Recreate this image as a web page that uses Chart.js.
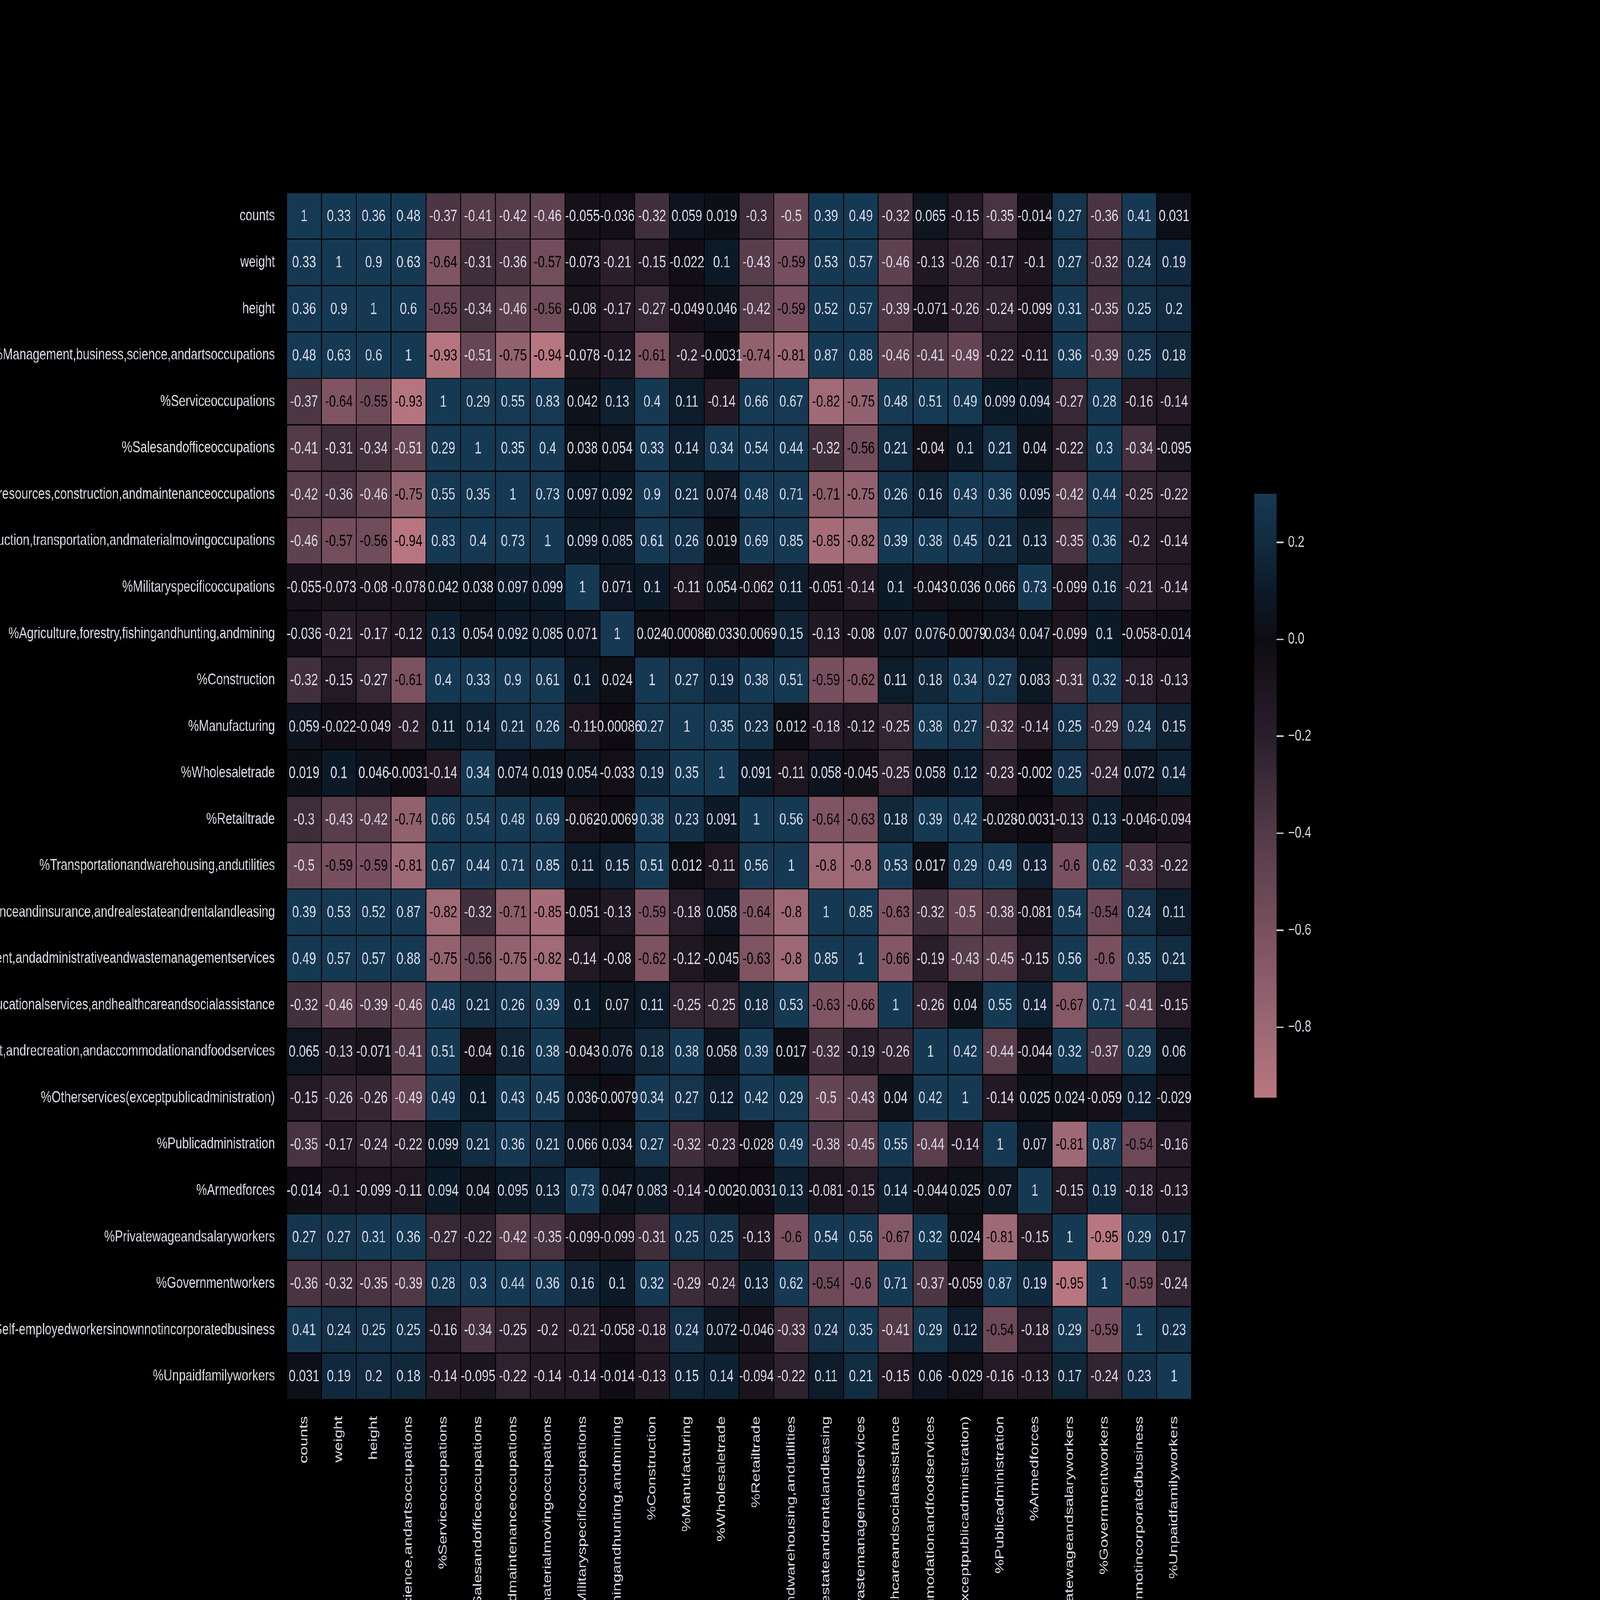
<!DOCTYPE html>
<html lang="en">
<head>
<meta charset="UTF-8">
<title>Correlation heatmap</title>
<script src="https://cdn.jsdelivr.net/npm/chart.js"></script>
<style>
  html, body { margin: 0; padding: 0; background: #000; overflow: hidden; }
  #wrap { position: relative; width: 6000px; height: 4500px; overflow: hidden; background: #000; transform-origin: 0 0; }
  #heat { position: absolute; left: 0; top: 0; }
  #cbar { position: absolute; left: 4703px; top: 1340px; }
</style>
</head>
<body>
<div id="wrap">
  <canvas id="heat" width="6000" height="4500"></canvas>
  <canvas id="cbar" width="300" height="1796"></canvas>
</div>
<script>
// variable names, same order on both axes
const labels = [
  'counts', 'weight', 'height',
  '%Management,business,science,andartsoccupations',
  '%Serviceoccupations',
  '%Salesandofficeoccupations',
  '%Naturalresources,construction,andmaintenanceoccupations',
  '%Production,transportation,andmaterialmovingoccupations',
  '%Militaryspecificoccupations',
  '%Agriculture,forestry,fishingandhunting,andmining',
  '%Construction',
  '%Manufacturing',
  '%Wholesaletrade',
  '%Retailtrade',
  '%Transportationandwarehousing,andutilities',
  '%Financeandinsurance,andrealestateandrentalandleasing',
  '%Professional,scientific,andmanagement,andadministrativeandwastemanagementservices',
  '%Educationalservices,andhealthcareandsocialassistance',
  '%Arts,entertainment,andrecreation,andaccommodationandfoodservices',
  '%Otherservices(exceptpublicadministration)',
  '%Publicadministration',
  '%Armedforces',
  '%Privatewageandsalaryworkers',
  '%Governmentworkers',
  '%Self-employedworkersinownnotincorporatedbusiness',
  '%Unpaidfamilyworkers'
];

// correlation matrix, one row per label
const corr = [
  [1, 0.33, 0.36, 0.48, -0.37, -0.41, -0.42, -0.46, -0.055, -0.036, -0.32, 0.059, 0.019, -0.3, -0.5, 0.39, 0.49, -0.32, 0.065, -0.15, -0.35, -0.014, 0.27, -0.36, 0.41, 0.031],
  [0.33, 1, 0.9, 0.63, -0.64, -0.31, -0.36, -0.57, -0.073, -0.21, -0.15, -0.022, 0.1, -0.43, -0.59, 0.53, 0.57, -0.46, -0.13, -0.26, -0.17, -0.1, 0.27, -0.32, 0.24, 0.19],
  [0.36, 0.9, 1, 0.6, -0.55, -0.34, -0.46, -0.56, -0.08, -0.17, -0.27, -0.049, 0.046, -0.42, -0.59, 0.52, 0.57, -0.39, -0.071, -0.26, -0.24, -0.099, 0.31, -0.35, 0.25, 0.2],
  [0.48, 0.63, 0.6, 1, -0.93, -0.51, -0.75, -0.94, -0.078, -0.12, -0.61, -0.2, -0.0031, -0.74, -0.81, 0.87, 0.88, -0.46, -0.41, -0.49, -0.22, -0.11, 0.36, -0.39, 0.25, 0.18],
  [-0.37, -0.64, -0.55, -0.93, 1, 0.29, 0.55, 0.83, 0.042, 0.13, 0.4, 0.11, -0.14, 0.66, 0.67, -0.82, -0.75, 0.48, 0.51, 0.49, 0.099, 0.094, -0.27, 0.28, -0.16, -0.14],
  [-0.41, -0.31, -0.34, -0.51, 0.29, 1, 0.35, 0.4, 0.038, 0.054, 0.33, 0.14, 0.34, 0.54, 0.44, -0.32, -0.56, 0.21, -0.04, 0.1, 0.21, 0.04, -0.22, 0.3, -0.34, -0.095],
  [-0.42, -0.36, -0.46, -0.75, 0.55, 0.35, 1, 0.73, 0.097, 0.092, 0.9, 0.21, 0.074, 0.48, 0.71, -0.71, -0.75, 0.26, 0.16, 0.43, 0.36, 0.095, -0.42, 0.44, -0.25, -0.22],
  [-0.46, -0.57, -0.56, -0.94, 0.83, 0.4, 0.73, 1, 0.099, 0.085, 0.61, 0.26, 0.019, 0.69, 0.85, -0.85, -0.82, 0.39, 0.38, 0.45, 0.21, 0.13, -0.35, 0.36, -0.2, -0.14],
  [-0.055, -0.073, -0.08, -0.078, 0.042, 0.038, 0.097, 0.099, 1, 0.071, 0.1, -0.11, 0.054, -0.062, 0.11, -0.051, -0.14, 0.1, -0.043, 0.036, 0.066, 0.73, -0.099, 0.16, -0.21, -0.14],
  [-0.036, -0.21, -0.17, -0.12, 0.13, 0.054, 0.092, 0.085, 0.071, 1, 0.024, -0.00086, -0.033, -0.0069, 0.15, -0.13, -0.08, 0.07, 0.076, -0.0079, 0.034, 0.047, -0.099, 0.1, -0.058, -0.014],
  [-0.32, -0.15, -0.27, -0.61, 0.4, 0.33, 0.9, 0.61, 0.1, 0.024, 1, 0.27, 0.19, 0.38, 0.51, -0.59, -0.62, 0.11, 0.18, 0.34, 0.27, 0.083, -0.31, 0.32, -0.18, -0.13],
  [0.059, -0.022, -0.049, -0.2, 0.11, 0.14, 0.21, 0.26, -0.11, -0.00086, 0.27, 1, 0.35, 0.23, 0.012, -0.18, -0.12, -0.25, 0.38, 0.27, -0.32, -0.14, 0.25, -0.29, 0.24, 0.15],
  [0.019, 0.1, 0.046, -0.0031, -0.14, 0.34, 0.074, 0.019, 0.054, -0.033, 0.19, 0.35, 1, 0.091, -0.11, 0.058, -0.045, -0.25, 0.058, 0.12, -0.23, -0.002, 0.25, -0.24, 0.072, 0.14],
  [-0.3, -0.43, -0.42, -0.74, 0.66, 0.54, 0.48, 0.69, -0.062, -0.0069, 0.38, 0.23, 0.091, 1, 0.56, -0.64, -0.63, 0.18, 0.39, 0.42, -0.028, -0.0031, -0.13, 0.13, -0.046, -0.094],
  [-0.5, -0.59, -0.59, -0.81, 0.67, 0.44, 0.71, 0.85, 0.11, 0.15, 0.51, 0.012, -0.11, 0.56, 1, -0.8, -0.8, 0.53, 0.017, 0.29, 0.49, 0.13, -0.6, 0.62, -0.33, -0.22],
  [0.39, 0.53, 0.52, 0.87, -0.82, -0.32, -0.71, -0.85, -0.051, -0.13, -0.59, -0.18, 0.058, -0.64, -0.8, 1, 0.85, -0.63, -0.32, -0.5, -0.38, -0.081, 0.54, -0.54, 0.24, 0.11],
  [0.49, 0.57, 0.57, 0.88, -0.75, -0.56, -0.75, -0.82, -0.14, -0.08, -0.62, -0.12, -0.045, -0.63, -0.8, 0.85, 1, -0.66, -0.19, -0.43, -0.45, -0.15, 0.56, -0.6, 0.35, 0.21],
  [-0.32, -0.46, -0.39, -0.46, 0.48, 0.21, 0.26, 0.39, 0.1, 0.07, 0.11, -0.25, -0.25, 0.18, 0.53, -0.63, -0.66, 1, -0.26, 0.04, 0.55, 0.14, -0.67, 0.71, -0.41, -0.15],
  [0.065, -0.13, -0.071, -0.41, 0.51, -0.04, 0.16, 0.38, -0.043, 0.076, 0.18, 0.38, 0.058, 0.39, 0.017, -0.32, -0.19, -0.26, 1, 0.42, -0.44, -0.044, 0.32, -0.37, 0.29, 0.06],
  [-0.15, -0.26, -0.26, -0.49, 0.49, 0.1, 0.43, 0.45, 0.036, -0.0079, 0.34, 0.27, 0.12, 0.42, 0.29, -0.5, -0.43, 0.04, 0.42, 1, -0.14, 0.025, 0.024, -0.059, 0.12, -0.029],
  [-0.35, -0.17, -0.24, -0.22, 0.099, 0.21, 0.36, 0.21, 0.066, 0.034, 0.27, -0.32, -0.23, -0.028, 0.49, -0.38, -0.45, 0.55, -0.44, -0.14, 1, 0.07, -0.81, 0.87, -0.54, -0.16],
  [-0.014, -0.1, -0.099, -0.11, 0.094, 0.04, 0.095, 0.13, 0.73, 0.047, 0.083, -0.14, -0.002, -0.0031, 0.13, -0.081, -0.15, 0.14, -0.044, 0.025, 0.07, 1, -0.15, 0.19, -0.18, -0.13],
  [0.27, 0.27, 0.31, 0.36, -0.27, -0.22, -0.42, -0.35, -0.099, -0.099, -0.31, 0.25, 0.25, -0.13, -0.6, 0.54, 0.56, -0.67, 0.32, 0.024, -0.81, -0.15, 1, -0.95, 0.29, 0.17],
  [-0.36, -0.32, -0.35, -0.39, 0.28, 0.3, 0.44, 0.36, 0.16, 0.1, 0.32, -0.29, -0.24, 0.13, 0.62, -0.54, -0.6, 0.71, -0.37, -0.059, 0.87, 0.19, -0.95, 1, -0.59, -0.24],
  [0.41, 0.24, 0.25, 0.25, -0.16, -0.34, -0.25, -0.2, -0.21, -0.058, -0.18, 0.24, 0.072, -0.046, -0.33, 0.24, 0.35, -0.41, 0.29, 0.12, -0.54, -0.18, 0.29, -0.59, 1, 0.23],
  [0.031, 0.19, 0.2, 0.18, -0.14, -0.095, -0.22, -0.14, -0.14, -0.014, -0.13, 0.15, 0.14, -0.094, -0.22, 0.11, 0.21, -0.15, 0.06, -0.029, -0.16, -0.13, 0.17, -0.24, 0.23, 1]
];

// colour scale range and colorbar ticks
const vmin = -0.945;
const vmax = 0.3;
const cbarTicks = [-0.8, -0.6, -0.4, -0.2, 0, 0.2];

// pink -> near black -> dark blue
const stops = [
  [-0.945, [184, 119, 128]],
  [-0.8, [156, 104, 117]],
  [-0.6, [121, 80, 95]],
  [-0.4, [82, 58, 71]],
  [-0.2, [42, 30, 43]],
  [0, [14, 12, 18]],
  [0.1, [12, 26, 40]],
  [0.2, [18, 43, 64]],
  [0.3, [22, 57, 83]]
];

const textColor = '#dadae6';
const fontFamily = '"Liberation Sans", Arial, sans-serif';

// the figure is laid out at 6000x4500; stretch it onto whatever window we get
const wrap = document.getElementById('wrap');
const sx = window.innerWidth / 6000;
const sy = window.innerHeight / 4500;
if (Math.abs(sx - 1) > 0.001 || Math.abs(sy - 1) > 0.001) {
  wrap.style.transform = `scale(${sx}, ${sy})`;
}

function colorFor(v) {
  v = Math.max(vmin, Math.min(vmax, v));
  for (let k = 1; k < stops.length; k++) {
    const [v1, c1] = stops[k];
    const [v0, c0] = stops[k - 1];
    if (v <= v1) {
      const t = (v - v0) / (v1 - v0);
      const c = c0.map((x, n) => Math.round(x + (c1[n] - x) * t));
      return `rgb(${c[0]},${c[1]},${c[2]})`;
    }
  }
  const c = stops[stops.length - 1][1];
  return `rgb(${c[0]},${c[1]},${c[2]})`;
}

Chart.defaults.font.family = fontFamily;
Chart.defaults.color = textColor;

// numbers written in each cell
const cellText = {
  id: 'cellText',
  afterDatasetsDraw(chart) {
    const ctx = chart.ctx;
    ctx.save();
    ctx.font = '46px ' + fontFamily;
    ctx.textAlign = 'center';
    ctx.textBaseline = 'middle';
    corr.forEach((row, i) => {
      chart.getDatasetMeta(i).data.forEach((bar, j) => {
        const p = bar.getCenterPoint();
        ctx.fillStyle = row[j] < -0.52 ? '#050505' : textColor;
        ctx.fillText(String(row[j]), p.x, p.y + 2);
      });
    });
    ctx.restore();
  }
};

new Chart(document.getElementById('heat'), {
  type: 'bar',
  data: {
    labels: labels,
    datasets: corr.map((row, i) => ({
      label: labels[i],
      data: row.map(() => 1),
      backgroundColor: row.map(colorFor),
      borderColor: '#000',
      borderWidth: 2,
      borderSkipped: false,
      barPercentage: 1,
      categoryPercentage: 1
    }))
  },
  options: {
    responsive: false,
    devicePixelRatio: 1,
    animation: false,
    layout: { padding: { left: 0, top: 542, right: 1532, bottom: 0 } },
    plugins: { legend: { display: false }, tooltip: { enabled: false } },
    scales: {
      x: {
        stacked: true,
        grid: { display: false, drawTicks: false },
        border: { display: false },
        ticks: {
          autoSkip: false, minRotation: 90, maxRotation: 90,
          padding: 47, color: textColor, font: { size: 45 }
        },
        afterFit(s) { s.height = 564; s.paddingLeft = 0; s.paddingRight = 0; }
      },
      y: {
        stacked: true,
        min: 0,
        max: labels.length,
        reverse: true,
        grid: { display: false, drawTicks: false },
        border: { display: false },
        ticks: {
          padding: 44, color: textColor, font: { size: 45 },
          callback: (v, idx) => labels[idx]
        },
        afterBuildTicks(s) { s.ticks = labels.map((_, i) => ({ value: i + 0.5 })); },
        afterFit(s) { s.width = 1075; s.paddingTop = 0; s.paddingBottom = 0; }
      }
    }
  },
  plugins: [cellText]
});

// colorbar
function barGradient(chart) {
  const area = chart.chartArea;
  if (!area) return colorFor(0);
  const y = chart.scales.y;
  const g = chart.ctx.createLinearGradient(0, y.getPixelForValue(vmin), 0, y.getPixelForValue(vmax));
  stops.forEach(([v, c]) => {
    g.addColorStop((v - vmin) / (vmax - vmin), `rgb(${c[0]},${c[1]},${c[2]})`);
  });
  return g;
}

new Chart(document.getElementById('cbar'), {
  type: 'bar',
  data: {
    labels: [''],
    datasets: [{
      data: [[vmin, vmax]],
      backgroundColor: (c) => barGradient(c.chart),
      borderWidth: 0,
      barPercentage: 1,
      categoryPercentage: 1
    }]
  },
  options: {
    responsive: false,
    devicePixelRatio: 1,
    animation: false,
    layout: { padding: { left: 0, right: 0, top: 49, bottom: 49 } },
    plugins: { legend: { display: false }, tooltip: { enabled: false } },
    scales: {
      x: { display: false },
      y: {
        position: 'right',
        min: vmin,
        max: vmax,
        grid: { drawOnChartArea: false, drawTicks: true, tickLength: 26, tickWidth: 4, tickColor: textColor },
        border: { display: false },
        ticks: {
          padding: 17, color: textColor, font: { size: 44 },
          callback: (v) => (v < -1e-9 ? '\u2212' : '') + Math.abs(v).toFixed(1)
        },
        afterBuildTicks(s) { s.ticks = cbarTicks.map(v => ({ value: v })); },
        afterFit(s) { s.width = 216; s.paddingTop = 0; s.paddingBottom = 0; }
      }
    }
  }
});
</script>
</body>
</html>
